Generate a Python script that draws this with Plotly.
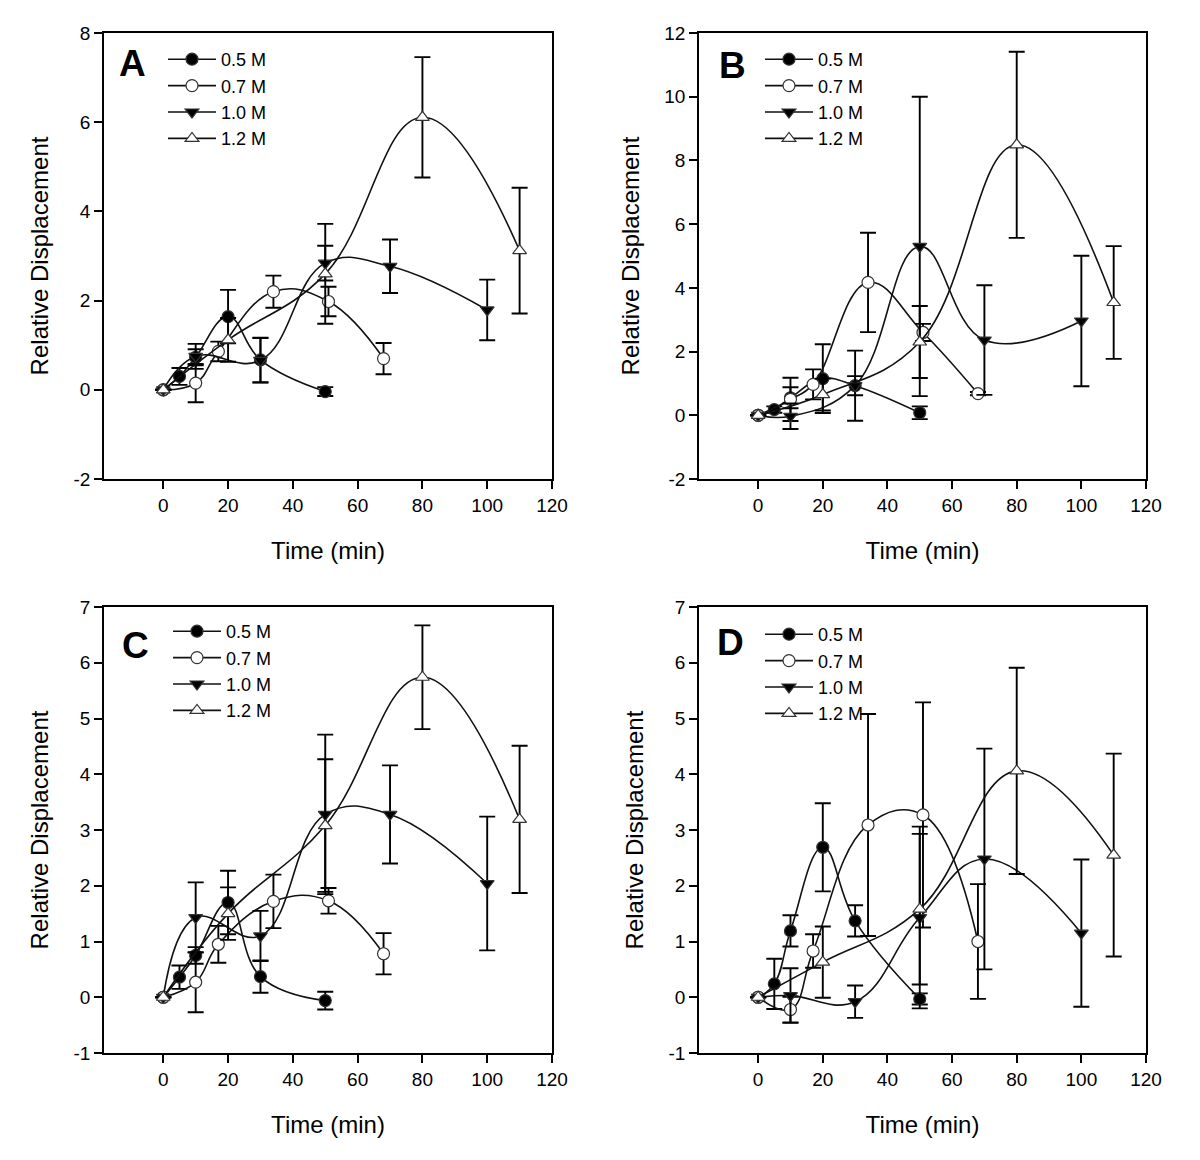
import plotly.graph_objects as go

# ---------------- data ----------------
times_05 = [0, 5, 10, 20, 30, 50]
times_07 = [0, 10, 17, 34, 51, 68]
times_10 = [0, 10, 30, 50, 70, 100]
times_12 = [0, 20, 50, 80, 110]

series_names = ["0.5 M", "0.7 M", "1.0 M", "1.2 M"]
panel_letters = ["A", "B", "C", "D"]

# Panel A
a_05 = [0, 0.30, 0.73, 1.64, 0.67, -0.04]
a_05_err = [0, 0.19, 0.18, 0.60, 0.50, 0.10]
a_07 = [0, 0.15, 0.86, 2.20, 1.98, 0.70]
a_07_err = [0, 0.43, 0.22, 0.36, 0.33, 0.35]
a_10 = [0, 0.75, 0.66, 2.84, 2.77, 1.79]
a_10_err = [0, 0.28, 0.50, 0.39, 0.60, 0.68]
a_12 = [0, 1.12, 2.60, 6.11, 3.12]
a_12_err = [0, 0.49, 1.12, 1.35, 1.41]

# Panel B
b_05 = [0, 0.18, 0.55, 1.15, 0.93, 0.08]
b_05_err = [0, 0.10, 0.33, 1.08, 1.10, 0.20]
b_07 = [0, 0.50, 0.97, 4.17, 2.60, 0.68]
b_07_err = [0, 0.68, 0.47, 1.56, 0.27, 0.05]
b_10 = [0, -0.03, 0.93, 5.30, 2.36, 2.96]
b_10_err = [0, 0.40, 0.30, 4.70, 1.72, 2.05]
b_12 = [0, 0.65, 2.30, 8.49, 3.54]
b_12_err = [0, 0.50, 1.13, 2.92, 1.77]

# Panel C
c_05 = [0, 0.36, 0.75, 1.70, 0.37, -0.06]
c_05_err = [0, 0.21, 0.15, 0.57, 0.29, 0.16]
c_07 = [0, 0.27, 0.95, 1.72, 1.73, 0.78]
c_07_err = [0, 0.54, 0.33, 0.48, 0.23, 0.37]
c_10 = [0, 1.43, 1.10, 3.28, 3.28, 2.04]
c_10_err = [0, 0.63, 0.45, 1.43, 0.88, 1.20]
c_12 = [0, 1.50, 3.08, 5.74, 3.19]
c_12_err = [0, 0.47, 1.19, 0.93, 1.32]

# Panel D
d_05 = [0, 0.24, 1.19, 2.69, 1.37, -0.03]
d_05_err = [0, 0.45, 0.28, 0.79, 0.28, 0.10]
d_07 = [0, -0.22, 0.83, 3.09, 3.27, 1.00]
d_07_err = [0, 0.23, 0.30, 1.99, 2.02, 1.03]
d_10 = [0, 0.03, -0.08, 1.43, 2.48, 1.15]
d_10_err = [0, 0.49, 0.29, 1.63, 1.98, 1.32]
d_12 = [0, 0.63, 1.58, 4.06, 2.55]
d_12_err = [0, 0.64, 1.35, 1.85, 1.82]

x_ticks = [0, 20, 40, 60, 80, 100, 120]
y_ticks_a = [-2, 0, 2, 4, 6, 8]
y_ticks_b = [-2, 0, 2, 4, 6, 8, 10, 12]
y_ticks_cd = [-1, 0, 1, 2, 3, 4, 5, 6, 7]

# ---------------- layout geometry (px in the 1200x1160 window) ----------------
OFF = 8                      # default page body margin
W, H = 1200 - OFF, 1160 - OFF
FONT = "Arial, Liberation Sans, sans-serif"

def px_x(v):
    return (v - OFF) / W

def px_y(v):
    return 1 - (v - OFF) / H

panels = [
    dict(letter="A", data=[(a_05, a_05_err), (a_07, a_07_err), (a_10, a_10_err), (a_12, a_12_err)],
         xdom=(104, 552), ydom=(33, 479), yr=(-2, 8), yt=y_ticks_a,
         letter_pos=(132, 63), legend_pos=(163, 41)),
    dict(letter="B", data=[(b_05, b_05_err), (b_07, b_07_err), (b_10, b_10_err), (b_12, b_12_err)],
         xdom=(699, 1146), ydom=(33, 479), yr=(-2, 12), yt=y_ticks_b,
         letter_pos=(732, 66), legend_pos=(760, 41)),
    dict(letter="C", data=[(c_05, c_05_err), (c_07, c_07_err), (c_10, c_10_err), (c_12, c_12_err)],
         xdom=(104, 552), ydom=(607, 1053), yr=(-1, 7), yt=y_ticks_cd,
         letter_pos=(135, 645), legend_pos=(168, 613)),
    dict(letter="D", data=[(d_05, d_05_err), (d_07, d_07_err), (d_10, d_10_err), (d_12, d_12_err)],
         xdom=(699, 1146), ydom=(607, 1053), yr=(-1, 7), yt=y_ticks_cd,
         letter_pos=(730, 642), legend_pos=(760, 616)),
]

times_all = [times_05, times_07, times_10, times_12]
symbols = ["circle", "circle", "triangle-down", "triangle-up"]
fills = ["black", "white", "black", "white"]

fig = go.Figure()
LINE_COLOR = "#111111"

annotations = []
for i, p in enumerate(panels):
    n = "" if i == 0 else str(i + 1)
    xa, ya = "x" + n, "y" + n
    leg = "legend" + n
    for k in range(4):
        vals, errs = p["data"][k]
        fig.add_trace(go.Scatter(
            x=times_all[k], y=vals,
            mode="lines+markers",
            name=series_names[k],
            line=dict(color=LINE_COLOR, width=1.6, shape="spline", smoothing=1.2),
            marker=dict(symbol=symbols[k], size=12, color=fills[k],
                        line=dict(color="#333333", width=1.2)),
            error_y=dict(type="data", array=errs, visible=True, color="black",
                         thickness=1.9, width=8),
            xaxis=xa, yaxis=ya, legend=leg, showlegend=True,
        ))
    x0, x1 = p["xdom"]
    y0, y1 = p["ydom"]
    axis_common = dict(showline=True, linecolor="black", linewidth=1.6, mirror=True,
                       ticks="outside", ticklen=8, tickwidth=1.6, tickcolor="black",
                       showgrid=False, zeroline=False, automargin=False,
                       tickfont=dict(family=FONT, size=19, color="black"))
    fig.layout["xaxis" + n] = dict(
        domain=[px_x(x0), px_x(x1)], anchor=ya, range=[-18.3, 120],
        tickvals=x_ticks, ticktext=[str(t) for t in x_ticks],
        title=dict(text="Time (min)", standoff=28,
                   font=dict(family=FONT, size=24, color="black")),
        **axis_common)
    fig.layout["yaxis" + n] = dict(
        domain=[px_y(y1), px_y(y0)], anchor=xa, range=list(p["yr"]),
        tickvals=p["yt"], ticktext=[str(t) for t in p["yt"]],
        title=dict(text="Relative Displacement", standoff=18,
                   font=dict(family=FONT, size=24, color="black")),
        **axis_common)
    lx, ly = p["legend_pos"]
    fig.layout[leg] = dict(x=px_x(lx), y=px_y(ly), xanchor="left", yanchor="top",
                           bgcolor="rgba(0,0,0,0)", borderwidth=0,
                           font=dict(family=FONT, size=18, color="black"),
                           tracegroupgap=0, itemwidth=48, traceorder="normal")
    tx, ty = p["letter_pos"]
    annotations.append(dict(text="<b>" + p["letter"] + "</b>", x=px_x(tx), y=px_y(ty),
                            xref="paper", yref="paper", xanchor="center", yanchor="middle",
                            showarrow=False, font=dict(family=FONT, size=37, color="black")))

fig.update_layout(
    width=W, height=H,
    margin=dict(l=0, r=0, t=0, b=0),
    paper_bgcolor="white", plot_bgcolor="white",
    annotations=annotations,
    font=dict(family=FONT, color="black"),
)

fig.write_html("out.html")
